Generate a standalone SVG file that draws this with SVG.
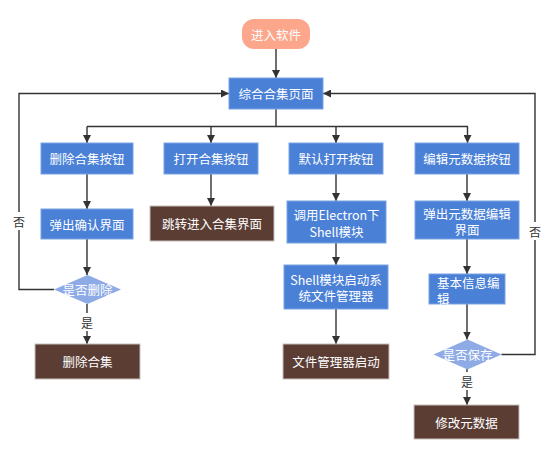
<svg xmlns="http://www.w3.org/2000/svg" width="554" height="459" viewBox="0 0 554 459">
<defs>
<style>
.t{font-family:"Noto Sans CJK SC","Microsoft YaHei",sans-serif;font-size:12.5px;fill:#ffffff;text-anchor:middle;dominant-baseline:central}
.l{font-family:"Noto Sans CJK SC",sans-serif;font-size:12px;fill:#333333;text-anchor:middle;dominant-baseline:central}
.b{fill:#4a80d6;stroke:#7aa3e3;stroke-width:1}
.r{fill:#5b3d34;stroke:#c8bfbb;stroke-width:1}
.d{fill:#8eabe6}
.c{fill:none;stroke:#333333;stroke-width:1.4}
</style>
<marker id="a" viewBox="0 0 10 10" refX="10" refY="5" markerWidth="8" markerHeight="8" markerUnits="userSpaceOnUse" orient="auto">
<path d="M0,0 L10,5 L0,10 z" fill="#333333"/>
</marker>
</defs>
<rect width="554" height="459" fill="#ffffff"/>
<g id="connectors">
<path class="c" d="M276,49 V78" marker-end="url(#a)"/>
<path class="c" d="M276,109 V126.5"/>
<path class="c" d="M87,126.5 H468"/>
<path class="c" d="M87,126.5 V143" marker-end="url(#a)"/>
<path class="c" d="M211,126.5 V143" marker-end="url(#a)"/>
<path class="c" d="M336,126.5 V143" marker-end="url(#a)"/>
<path class="c" d="M467.5,126.5 V143" marker-end="url(#a)"/>
<path class="c" d="M87,174 V209" marker-end="url(#a)"/>
<path class="c" d="M211,174 V206" marker-end="url(#a)"/>
<path class="c" d="M336,174 V201" marker-end="url(#a)"/>
<path class="c" d="M467,174 V201" marker-end="url(#a)"/>
<path class="c" d="M87,239 V275" marker-end="url(#a)"/>
<path class="c" d="M87,304 V344" marker-end="url(#a)"/>
<path class="c" d="M336,243 V265" marker-end="url(#a)"/>
<path class="c" d="M336,309 V344" marker-end="url(#a)"/>
<path class="c" d="M467,239 V274" marker-end="url(#a)"/>
<path class="c" d="M467,304 V339.5" marker-end="url(#a)"/>
<path class="c" d="M467,369 V405" marker-end="url(#a)"/>
<path class="c" d="M54,289.5 H19 V93.5 H229" marker-end="url(#a)"/>
<path class="c" d="M501.5,354.5 H535 V93.5 H323" marker-end="url(#a)"/>
<rect x="12" y="212" width="14" height="18" fill="#ffffff"/>
<text class="l" x="19" y="221">否</text>
<rect x="528" y="222" width="14" height="18" fill="#ffffff"/>
<text class="l" x="535" y="231">否</text>
<rect x="80" y="313" width="14" height="18" fill="#ffffff"/>
<text class="l" x="87" y="322">是</text>
<rect x="460" y="372" width="14" height="18" fill="#ffffff"/>
<text class="l" x="467" y="381">是</text>
</g>
<g id="start"><rect x="242" y="19" width="68" height="30" rx="12" fill="#fca78b"/><text class="t" x="276" y="34">进入软件</text></g>
<g id="main"><rect class="b" x="229" y="78" width="94" height="31"/><text class="t" x="276" y="93.5">综合合集页面</text></g>
<g id="btn-delete"><rect class="b" x="41" y="143" width="92" height="31"/><text class="t" x="87" y="158.5">删除合集按钮</text></g>
<g id="btn-open"><rect class="b" x="164" y="143" width="94" height="31"/><text class="t" x="211" y="158.5">打开合集按钮</text></g>
<g id="btn-default"><rect class="b" x="289" y="143" width="94" height="31"/><text class="t" x="336" y="158.5">默认打开按钮</text></g>
<g id="btn-edit"><rect class="b" x="415" y="143" width="104" height="31"/><text class="t" x="467" y="158.5">编辑元数据按钮</text></g>
<g id="confirm"><rect class="b" x="41" y="209" width="92" height="30"/><text class="t" x="87" y="224">弹出确认界面</text></g>
<g id="jump"><rect class="r" x="150" y="206" width="124" height="35"/><text class="t" x="212" y="223.5">跳转进入合集界面</text></g>
<g id="electron"><rect class="b" x="287" y="201" width="99" height="42"/><text class="t" x="336.5" y="214.5">调用Electron下<tspan x="336.5" dy="16">Shell模块</tspan></text></g>
<g id="meta-ui"><rect class="b" x="415" y="201" width="104" height="38"/><text class="t" x="467" y="213">弹出元数据编辑<tspan x="467" dy="15.5">界面</tspan></text></g>
<g id="ask-delete"><polygon class="d" points="87.5,275 121,289.5 87.5,304 54,289.5"/><text class="t" x="87.5" y="289.5">是否删除</text></g>
<g id="shell-start"><rect class="b" x="284" y="265" width="104" height="44"/><text class="t" x="336" y="279">Shell模块启动系<tspan x="336" dy="16">统文件管理器</tspan></text></g>
<g id="basic-edit"><rect class="b" x="429" y="274" width="76" height="30"/><text class="t" x="437" y="282.5" style="text-anchor:start">基本信息编<tspan x="437" dy="15.5">辑</tspan></text></g>
<g id="ask-save"><polygon class="d" points="467.5,339.5 501.5,354.5 467.5,369.5 433.5,354.5"/><text class="t" x="467.5" y="354.5">是否保存</text></g>
<g id="delete"><rect class="r" x="35" y="344" width="105" height="35"/><text class="t" x="87.5" y="361.5">删除合集</text></g>
<g id="fm-start"><rect class="r" x="283" y="344" width="106" height="35"/><text class="t" x="336" y="361.5">文件管理器启动</text></g>
<g id="modify"><rect class="r" x="414" y="405" width="105" height="34"/><text class="t" x="466.5" y="422">修改元数据</text></g>
</svg>
